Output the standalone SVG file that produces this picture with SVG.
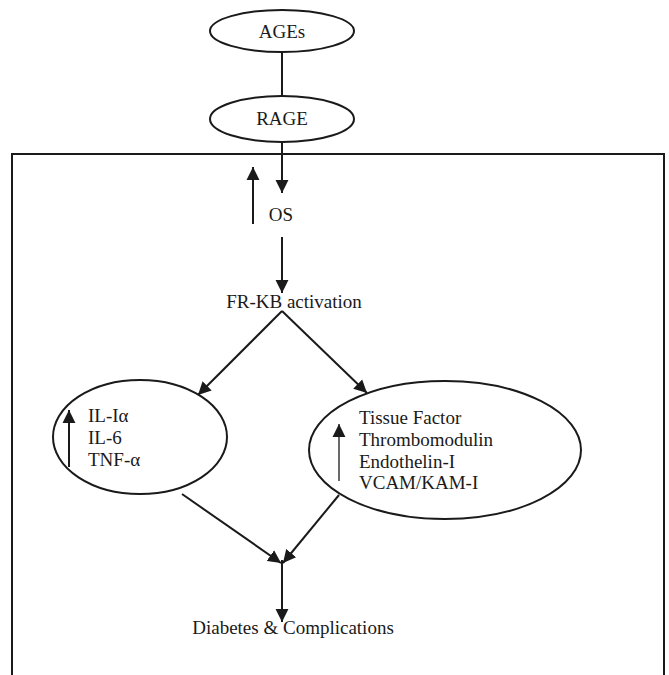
<svg xmlns="http://www.w3.org/2000/svg" width="669" height="675" viewBox="0 0 669 675">
<style>
text{font-family:"Liberation Serif","Times New Roman",serif;font-size:19px;fill:#1a1a1a}
.n{fill:#fff;stroke:#1a1a1a;stroke-width:2}
.c{fill:none;stroke:#1a1a1a;stroke-width:2}
.t{fill:none;stroke:#1a1a1a;stroke-width:1.3}
</style>
<defs>
<marker id="ah" markerUnits="userSpaceOnUse" markerWidth="14" markerHeight="14" viewBox="0 0 13 13" refX="12" refY="6.5" orient="auto">
<path d="M0,0.5 L12,6.5 L0,12.5 Z" fill="#1a1a1a"/>
</marker>
</defs>
<path class="c" d="M12,675 V154 H664 V675"/>
<g id="connectors">
<line class="c" x1="282" y1="53" x2="282" y2="96"/>
<line class="c" x1="282" y1="142" x2="282" y2="193" marker-end="url(#ah)"/>
<line class="c" x1="253" y1="224" x2="253" y2="167" marker-end="url(#ah)"/>
<line class="c" x1="282" y1="237" x2="282" y2="293" marker-end="url(#ah)"/>
<line class="c" x1="282" y1="311" x2="198" y2="395" marker-end="url(#ah)"/>
<line class="c" x1="282" y1="311" x2="367" y2="393" marker-end="url(#ah)"/>
<line class="c" x1="182" y1="494" x2="281" y2="563" marker-end="url(#ah)"/>
<line class="c" x1="339" y1="495" x2="283" y2="563" marker-end="url(#ah)"/>
<line class="c" x1="282" y1="560" x2="282" y2="622" marker-end="url(#ah)"/>
</g>
<g id="ages">
<ellipse class="n" cx="282" cy="31" rx="72" ry="21"/>
<text x="282" y="38" text-anchor="middle">AGEs</text>
</g>
<g id="rage">
<ellipse class="n" cx="282" cy="119" rx="72" ry="23"/>
<text x="282" y="125" text-anchor="middle">RAGE</text>
</g>
<g id="os">
<text x="281" y="221" text-anchor="middle">OS</text>
</g>
<g id="frkb">
<text x="294" y="308" text-anchor="middle">FR-KB activation</text>
</g>
<g id="cytokines">
<ellipse class="n" cx="140" cy="437" rx="87" ry="57"/>
<line class="c" x1="69" y1="467" x2="69" y2="410" marker-end="url(#ah)"/>
<text x="88" y="422">IL-Iα</text>
<text x="88" y="444">IL-6</text>
<text x="88" y="466">TNF-α</text>
</g>
<g id="factors">
<ellipse class="n" cx="445" cy="450" rx="136" ry="69"/>
<line class="t" x1="339" y1="481" x2="339" y2="424" marker-end="url(#ah)"/>
<text x="359" y="424">Tissue Factor</text>
<text x="359" y="446">Thrombomodulin</text>
<text x="359" y="468">Endothelin-I</text>
<text x="359" y="489">VCAM/KAM-I</text>
</g>
<g id="diabetes">
<text x="293" y="634" text-anchor="middle">Diabetes &amp; Complications</text>
</g>
</svg>
